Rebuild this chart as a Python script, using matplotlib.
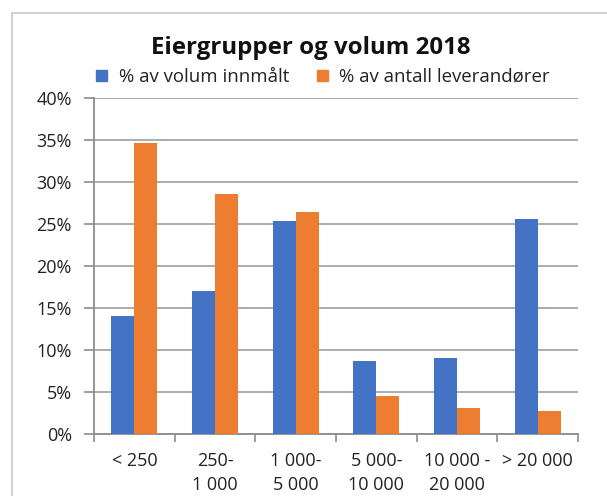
import matplotlib
matplotlib.use("Agg")
import matplotlib.pyplot as plt
from matplotlib.patches import Rectangle, Patch
import numpy as np

categories = ["< 250", "250-\n1 000", "1 000-\n5 000", "5 000-\n10 000", "10 000 -\n20 000", "> 20 000"]
volum = [14.1, 17.0, 25.3, 8.7, 9.1, 25.6]
leverandorer = [34.7, 28.6, 26.4, 4.5, 3.1, 2.7]
series_names = ["% av volum innmålt", "% av antall leverandører"]
yticks = [0, 5, 10, 15, 20, 25, 30, 35, 40]

plt.rcParams['font.family'] = ['Open Sans', 'DejaVu Sans']

W, H = 607, 496
fig = plt.figure(figsize=(W / 100, H / 100), dpi=100)

# outer chart frame
fig.patches.append(Rectangle((12 / W, -0.1), 1.2, 1 - 13 / H + 0.1, transform=fig.transFigure,
                             fill=False, edgecolor="#c8c8c8", linewidth=1.2))

ax = fig.add_axes([94 / W, 1 - 434 / H, (578 - 94) / W, (434 - 98) / H])
blue = "#4472C4"
orange = "#ED7D31"
x = np.arange(len(categories))
w = 1 / 3.5
ax.bar(x - w / 2, volum, width=w, color=blue, zorder=3)
ax.bar(x + w / 2, leverandorer, width=w, color=orange, zorder=3)

ax.set_xlim(-0.5, len(categories) - 0.5)
ax.set_ylim(0, 40)
ax.set_yticks(yticks)
ax.set_yticklabels([f"{v}%" for v in yticks])
ax.yaxis.grid(True, color="#a6a6a6", linewidth=1.3, zorder=0)
ax.set_axisbelow(True)

ax.set_xticks(np.arange(-0.5, len(categories), 1))
ax.set_xticklabels([])
ax.set_xticks(x, minor=True)
ax.set_xticklabels(categories, minor=True)
ax.tick_params(axis='x', which='major', length=6, color="#8c8c8c", width=1.2)
ax.tick_params(axis='x', which='minor', length=0, pad=13, labelsize=13, colors="#222222")
ax.tick_params(axis='y', length=7, color="#8c8c8c", width=1.2, labelsize=13, labelcolor="#222222", pad=9)
for lbl in ax.get_xticklabels(minor=True):
    lbl.set_linespacing(1.4)

for s in ["top", "right"]:
    ax.spines[s].set_visible(False)
for s in ["left", "bottom"]:
    ax.spines[s].set_color("#8c8c8c")
    ax.spines[s].set_linewidth(1.3)

fig.text(311 / W, 1 - 48 / H, "Eiergrupper og volum 2018", ha="center", va="center",
         fontsize=17.3, fontweight="bold", color="#111111")

handles = [Patch(color=blue), Patch(color=orange)]
fig.legend(handles, series_names, loc="center", bbox_to_anchor=(323 / W, 1 - 77 / H),
           ncol=2, frameon=False, fontsize=13.4, handlelength=0.6, handleheight=0.6,
           handletextpad=0.6, columnspacing=1.5, labelcolor="#222222")

fig.savefig("out.png", dpi=100)
